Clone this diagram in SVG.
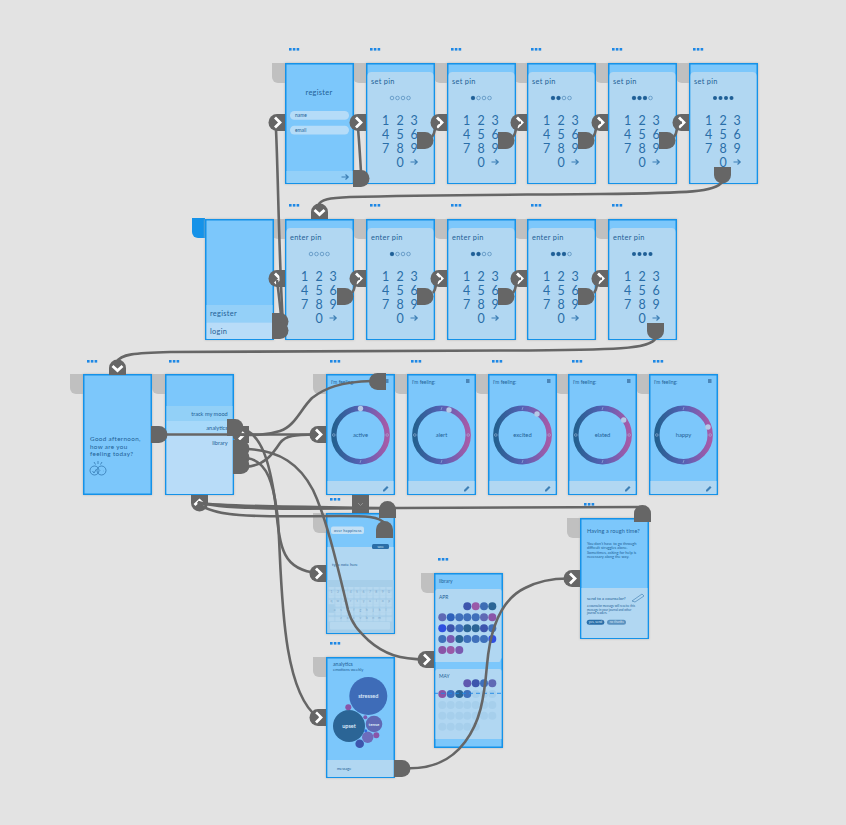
<svg xmlns="http://www.w3.org/2000/svg" width="846" height="825" viewBox="0 0 846 825">
<style>
text{font-family:"Lato","Noto Sans",sans-serif;fill:#1f5f96}
.fr{fill:#7cc7fb;stroke:#1592e8;stroke-width:1.5;x:.75px;y:.75px;width:67.5px;height:119.5px;filter:drop-shadow(0 0 1px #b5b5b5)}
.tab{fill:#c0c0c0}
.pan{fill:#b1d7f2}
.t{font-size:7.4px;letter-spacing:.3px}
.k{font-size:12.5px;text-anchor:middle;fill:#2a6ea8}
.s{font-size:4.9px}
.n{font-size:5.5px}
.m{font-size:5.8px;text-anchor:middle}
.r{font-size:5.6px;text-anchor:end}
.c{fill:none;stroke:#666;stroke-width:2.6}
.st{fill:#666}
.ch{fill:none;stroke:#fff;stroke-width:2.8}
.key{font-size:3.4px;text-anchor:middle;fill:#7ba8cc}
.ar{fill:none;stroke:#3d7fb5;stroke-width:1.2}
.b{font-size:3.9px;fill:#1f5f96}
.kn{fill:#b5c9e6}
</style>
<defs>
<linearGradient id="ringg" x1="0" y1="0" x2="1" y2="0"><stop offset="0" stop-color="#24608f"/><stop offset=".5" stop-color="#5660b4"/><stop offset="1" stop-color="#a65aa8"/></linearGradient>
<pattern id="keys" width="6.4" height="8.6" patternUnits="userSpaceOnUse" x="2.3" y="0"><rect x=".4" y=".6" width="5.6" height="7.2" rx="1" fill="#b6d8ef"/></pattern>
<g id="dots" fill="#1e88e5"><rect width="2.6" height="2.6"/><rect x="3.8" width="2.6" height="2.6"/><rect x="7.6" width="2.6" height="2.6"/></g>
<path id="tab" d="M-13 0H0V20H-7A6 6 0 0 1-13 14Z"/>
<g id="arrow"><path class="ar" d="M-3.5 0H3M.5-2.500L3.200 0L.5 2.500"/></g>
<g id="pinframe"><rect class="fr"/><path class="pan" d="M1.500 13A4 4 0 0 1 5.500 9H63.500A4 4 0 0 1 67.500 13V120H1.500Z"/><use href="#arrow" x="48" y="99"/></g>
<g id="empty4" fill="none" stroke="#5b92c0" stroke-width=".8"><circle cx="26" cy="35" r="1.800"/><circle cx="31.500" cy="35" r="1.800"/><circle cx="37" cy="35" r="1.800"/><circle cx="42.500" cy="35" r="1.800"/></g>
<path id="stub-r" class="st" d="M0 0H8A8.500 8.500 0 0 1 8 17H0Z"/>
<path id="stub-l" class="st" d="M17 0H8.500A8.500 8.500 0 0 0 8.500 17H17Z"/>
<path id="stub-t" class="st" d="M0 17V8.500A8.500 8.500 0 0 1 17 8.500V17Z"/>
<path id="stub-b" class="st" d="M0 0V8A8.500 8.500 0 0 0 17 8V0Z"/>
<g id="chev-r"><path class="st" d="M16 0H8A8.500 8.500 0 0 0 8 17H16Z"/><path class="ch" d="M6 3.500L11 8.500L6 13.500"/></g>
<g id="chev-d"><path class="st" d="M0 15V8A8.500 8.500 0 0 1 17 8V15Z"/><path class="ch" d="M3.500 6L8.500 10.500L13.500 6"/></g>
<g id="chev-u"><path class="st" d="M0 0V8A8.500 8.500 0 0 0 17 8V0Z"/><path class="ch" d="M3.500 10L8.500 5.500L13.500 10"/></g>
<g id="moodframe"><rect class="fr"/><rect class="pan" x="1.500" y="107" width="66" height="13"/>
<circle cx="34.500" cy="61" r="26.700" fill="none" stroke="url(#ringg)" stroke-width="5.400"/>
<g fill="none" stroke="#9db8dc" stroke-width=".6"><circle cx="7.800" cy="61" r="1.300"/><circle cx="61.200" cy="61" r="1.300"/><path d="M35 33L34 36M35 86L34 89"/></g>
<rect x="59" y="5" width="3.500" height="4" fill="#4b86b8"/>
<path d="M57 116L61 112L62.500 113.500L58.500 117.500H57Z" fill="#3d7fb5"/></g>
</defs>
<rect width="846" height="825" fill="#e3e3e3"/>
<g id="tabs" class="tab">
<use href="#tab" x="285" y="63"/><use href="#tab" x="366" y="63"/><use href="#tab" x="447" y="63"/><use href="#tab" x="527" y="63"/><use href="#tab" x="608" y="63"/><use href="#tab" x="689" y="63"/>
<use href="#tab" x="285" y="219"/><use href="#tab" x="366" y="219"/><use href="#tab" x="447" y="219"/><use href="#tab" x="527" y="219"/><use href="#tab" x="608" y="219"/>
<use href="#tab" x="205" y="218" fill="#1592e8"/>
<use href="#tab" x="83" y="374"/><use href="#tab" x="165" y="374"/><use href="#tab" x="326" y="374"/><use href="#tab" x="407" y="374"/><use href="#tab" x="488" y="374"/><use href="#tab" x="568" y="374"/><use href="#tab" x="649" y="374"/>
<use href="#tab" x="326" y="513"/><use href="#tab" x="326" y="657"/><use href="#tab" x="434" y="573"/><use href="#tab" x="580" y="518"/>
</g>
<g id="register" transform="translate(285,63)"><use href="#dots" x="4" y="-15"/><rect class="fr"/><text class="t" x="34" y="32" text-anchor="middle">register</text>
<rect x="5" y="48" width="59" height="8.700" rx="4.300" fill="#b5dcf8"/><text class="s" x="10" y="54">name</text>
<rect x="5" y="62.700" width="59" height="8.700" rx="4.300" fill="#b5dcf8"/><text class="s" x="10" y="68.800">email</text>
<rect x="1.500" y="108" width="66" height="12" fill="#94d0f8"/><use href="#arrow" x="60" y="114"/></g>
<g id="set-pin-1" transform="translate(366,63)"><use href="#dots" x="4" y="-15"/><use href="#pinframe"/><text class="t" x="5" y="21">set pin</text><use href="#empty4"/>
<text class="k" x="19.700 34 48" y="61.500">123</text><text class="k" x="19.700 34 48" y="75.500">456</text><text class="k" x="19.700 34 48" y="89.500">789</text><text class="k" x="34" y="103.500">0</text></g>
<g id="set-pin-2" transform="translate(447,63)"><use href="#dots" x="4" y="-15"/><use href="#pinframe"/><text class="t" x="5" y="21">set pin</text><use href="#empty4"/><circle cx="26" cy="35" r="2" fill="#1f5f96"/>
<text class="k" x="19.700 34 48" y="61.500">123</text><text class="k" x="19.700 34 48" y="75.500">456</text><text class="k" x="19.700 34 48" y="89.500">789</text><text class="k" x="34" y="103.500">0</text></g>
<g id="set-pin-3" transform="translate(527,63)"><use href="#dots" x="4" y="-15"/><use href="#pinframe"/><text class="t" x="5" y="21">set pin</text><use href="#empty4"/><g fill="#1f5f96"><circle cx="26" cy="35" r="2"/><circle cx="31.500" cy="35" r="2"/></g>
<text class="k" x="19.700 34 48" y="61.500">123</text><text class="k" x="19.700 34 48" y="75.500">456</text><text class="k" x="19.700 34 48" y="89.500">789</text><text class="k" x="34" y="103.500">0</text></g>
<g id="set-pin-4" transform="translate(608,63)"><use href="#dots" x="4" y="-15"/><use href="#pinframe"/><text class="t" x="5" y="21">set pin</text><use href="#empty4"/><g fill="#1f5f96"><circle cx="26" cy="35" r="2"/><circle cx="31.500" cy="35" r="2"/><circle cx="37" cy="35" r="2"/></g>
<text class="k" x="19.700 34 48" y="61.500">123</text><text class="k" x="19.700 34 48" y="75.500">456</text><text class="k" x="19.700 34 48" y="89.500">789</text><text class="k" x="34" y="103.500">0</text></g>
<g id="set-pin-5" transform="translate(689,63)"><use href="#dots" x="4" y="-15"/><use href="#pinframe"/><text class="t" x="5" y="21">set pin</text><g fill="#1f5f96"><circle cx="26" cy="35" r="2"/><circle cx="31.500" cy="35" r="2"/><circle cx="37" cy="35" r="2"/><circle cx="42.500" cy="35" r="2"/></g>
<text class="k" x="19.700 34 48" y="61.500">123</text><text class="k" x="19.700 34 48" y="75.500">456</text><text class="k" x="19.700 34 48" y="89.500">789</text><text class="k" x="34" y="103.500">0</text></g>
<g id="start" transform="translate(205,219)"><rect class="fr"/><rect x="1.500" y="86" width="66" height="17.500" fill="#94d0f8"/><rect x="1.500" y="103.500" width="66" height="16.500" fill="#b8dcf8"/><text class="t" x="5" y="97">register</text><text class="t" x="5" y="114.500">login</text></g>
<g id="enter-pin-1" transform="translate(285,219)"><use href="#dots" x="4" y="-15"/><use href="#pinframe"/><text class="t" x="5" y="21">enter pin</text><use href="#empty4"/>
<text class="k" x="19.700 34 48" y="61.500">123</text><text class="k" x="19.700 34 48" y="75.500">456</text><text class="k" x="19.700 34 48" y="89.500">789</text><text class="k" x="34" y="103.500">0</text></g>
<g id="enter-pin-2" transform="translate(366,219)"><use href="#dots" x="4" y="-15"/><use href="#pinframe"/><text class="t" x="5" y="21">enter pin</text><use href="#empty4"/><circle cx="26" cy="35" r="2" fill="#1f5f96"/>
<text class="k" x="19.700 34 48" y="61.500">123</text><text class="k" x="19.700 34 48" y="75.500">456</text><text class="k" x="19.700 34 48" y="89.500">789</text><text class="k" x="34" y="103.500">0</text></g>
<g id="enter-pin-3" transform="translate(447,219)"><use href="#dots" x="4" y="-15"/><use href="#pinframe"/><text class="t" x="5" y="21">enter pin</text><use href="#empty4"/><g fill="#1f5f96"><circle cx="26" cy="35" r="2"/><circle cx="31.500" cy="35" r="2"/></g>
<text class="k" x="19.700 34 48" y="61.500">123</text><text class="k" x="19.700 34 48" y="75.500">456</text><text class="k" x="19.700 34 48" y="89.500">789</text><text class="k" x="34" y="103.500">0</text></g>
<g id="enter-pin-4" transform="translate(527,219)"><use href="#dots" x="4" y="-15"/><use href="#pinframe"/><text class="t" x="5" y="21">enter pin</text><use href="#empty4"/><g fill="#1f5f96"><circle cx="26" cy="35" r="2"/><circle cx="31.500" cy="35" r="2"/><circle cx="37" cy="35" r="2"/></g>
<text class="k" x="19.700 34 48" y="61.500">123</text><text class="k" x="19.700 34 48" y="75.500">456</text><text class="k" x="19.700 34 48" y="89.500">789</text><text class="k" x="34" y="103.500">0</text></g>
<g id="enter-pin-5" transform="translate(608,219)"><use href="#dots" x="4" y="-15"/><use href="#pinframe"/><text class="t" x="5" y="21">enter pin</text><g fill="#1f5f96"><circle cx="26" cy="35" r="2"/><circle cx="31.500" cy="35" r="2"/><circle cx="37" cy="35" r="2"/><circle cx="42.500" cy="35" r="2"/></g>
<text class="k" x="19.700 34 48" y="61.500">123</text><text class="k" x="19.700 34 48" y="75.500">456</text><text class="k" x="19.700 34 48" y="89.500">789</text><text class="k" x="34" y="103.500">0</text></g>
<g id="greeting" transform="translate(83,374)"><use href="#dots" x="4" y="-14"/><rect class="fr"/>
<text font-size="6.300" letter-spacing=".35" x="7" y="67">Good afternoon,</text><text font-size="6.300" letter-spacing=".35" x="7" y="75">how are you</text><text font-size="6.300" letter-spacing=".35" x="7" y="82">feeling today?</text>
<g fill="none" stroke="#2a6ea8" stroke-width=".7"><circle cx="11.500" cy="96.500" r="4.500"/><circle cx="18.500" cy="96.500" r="4.500"/><path d="M15 87V90M11 88L12.500 90.500M19 88L17.500 90.500M9.500 97L11 99L13.500 95M17 96.500H17.300M20 97H20.300"/></g></g>
<g id="menu" transform="translate(165,374)"><use href="#dots" x="4" y="-14"/><rect class="fr"/><rect x="1.500" y="32" width="66" height="15" fill="#92d0f7"/><rect x="1.500" y="47" width="66" height="12" fill="#a7d9fa"/><rect x="1.500" y="59" width="66" height="61" fill="#b8dcf8"/>
<text class="r" x="62.700" y="42">track my mood</text><text class="r" x="62.700" y="56">analytics</text><text class="r" x="62.700" y="71">library</text></g>
<g id="mood-active" transform="translate(326,374)"><use href="#dots" x="4" y="-14"/><use href="#moodframe"/><text class="s" x="5" y="9.500">I'm feeling:</text><circle class="kn" cx="34.500" cy="34.500" r="2.700"/><text class="m" x="34.500" y="63">active</text></g>
<g id="mood-alert" transform="translate(407,374)"><use href="#dots" x="4" y="-14"/><use href="#moodframe"/><text class="s" x="5" y="9.500">I'm feeling:</text><circle class="kn" cx="42" cy="36" r="2.700"/><text class="m" x="34.500" y="63">alert</text></g>
<g id="mood-excited" transform="translate(488,374)"><use href="#dots" x="4" y="-14"/><use href="#moodframe"/><text class="s" x="5" y="9.500">I'm feeling:</text><circle class="kn" cx="49" cy="40" r="2.700"/><text class="m" x="34.500" y="63">excited</text></g>
<g id="mood-elated" transform="translate(568,374)"><use href="#dots" x="4" y="-14"/><use href="#moodframe"/><text class="s" x="5" y="9.500">I'm feeling:</text><circle class="kn" cx="55.700" cy="46" r="2.700"/><text class="m" x="34.500" y="63">elated</text></g>
<g id="mood-happy" transform="translate(649,374)"><use href="#dots" x="4" y="-14"/><use href="#moodframe"/><text class="s" x="5" y="9.500">I'm feeling:</text><circle class="kn" cx="59" cy="53" r="2.700"/><text class="m" x="34.500" y="63">happy</text></g>
<g id="journal" transform="translate(326,513)"><use href="#dots" x="4" y="-15"/><rect class="fr"/>
<rect x="1.500" y="34" width="66" height="86" fill="#b1d7f2"/>
<rect x="5" y="13.500" width="33" height="7.500" rx="2" fill="#c3e0f5"/><text font-size="3.800" x="8" y="18.700" letter-spacing=".2">over happiness</text>
<rect x="46" y="31" width="17" height="5" rx="1.500" fill="#2a6ea8"/><text font-size="3.200" x="54.500" y="34.700" text-anchor="middle" style="fill:#cfe6f7">save</text>
<text font-size="4" x="6" y="53">type note here</text>
<rect x="1.500" y="67" width="66" height="53" fill="#a6cee9"/>
<rect x="2.300" y="74" width="64" height="8.600" fill="url(#keys)"/>
<rect x="2.300" y="82.600" width="64" height="8.600" fill="url(#keys)"/>
<rect x="8.700" y="91.200" width="57.600" height="8.600" fill="url(#keys)"/>
<rect x="2.300" y="99.800" width="64" height="8.600" fill="url(#keys)"/>
<rect x="4" y="109" width="60" height="7.500" rx="1" fill="#b6d8ef"/>
<text class="key" x="5.500 11.900 18.300 24.700 31.100 37.500 43.900 50.300 56.700 63.100" y="80">1234567890</text>
<text class="key" x="5.500 11.900 18.300 24.700 31.100 37.500 43.900 50.300 56.700 63.100" y="89">qwertyuiop</text>
<text class="key" x="8.700 15.100 21.500 27.900 34.300 40.700 47.100 53.500 59.900" y="97.500">asdfghjkl</text>
<text class="key" x="15.100 21.500 27.900 34.300 40.700 47.100 53.500" y="106.300">zxcvbnm</text></g>
<g id="analytics" transform="translate(326,657)"><use href="#dots" x="4" y="-15"/><rect class="fr"/><text font-size="5.200" x="7" y="8.500">analytics</text><text font-size="4.100" x="7" y="13.500">emotions weekly</text>
<rect x="1.500" y="103" width="66" height="17" fill="#b1d7f2"/><text font-size="3.800" x="11" y="112.500">message</text>
<circle cx="42.300" cy="39" r="19" fill="#3e6cb8"/><circle cx="23" cy="69" r="16" fill="#2b6596"/><circle cx="48" cy="67" r="8.300" fill="#5f69b5"/><circle cx="41.700" cy="80.300" r="5.700" fill="#6d6cbc"/><circle cx="33.700" cy="86.700" r="4.300" fill="#3d55ad"/><circle cx="50.300" cy="78.300" r="3" fill="#8a55a8"/><circle cx="22.300" cy="50.300" r="3" fill="#8a55a8"/><circle cx="39.300" cy="60.300" r="2" fill="#7a5ab0"/><circle cx="39.700" cy="73.700" r="1.500" fill="#2f6be0"/>
<g text-anchor="middle" font-weight="700"><text font-size="5.500" x="42.300" y="41" style="fill:#dbe8f7">stressed</text><text font-size="5.500" x="23" y="71" style="fill:#dbe8f7">upset</text><text font-size="4.500" x="48" y="69" style="fill:#dbe8f7">tense</text></g></g>
<g id="library" transform="translate(434,573)"><use href="#dots" x="4" y="-15"/><rect class="fr" style="height:173.500px"/><text class="s" x="5" y="9.500">library</text>
<path class="pan" d="M1.500 18A2 2 0 0 1 3.500 16H65.500A2 2 0 0 1 67.500 18V85L65.500 89H1.500Z"/><path class="pan" d="M1.500 98A2 2 0 0 1 3.500 96H65.500A2 2 0 0 1 67.500 98V166H1.500Z"/>
<text class="s" x="5" y="25.500">APR</text><text class="s" x="5" y="104.500">MAY</text>
<g fill="#3f70bb">
<circle cx="33.300" cy="33.300" r="4" fill="#3d55ad"/><circle cx="41.700" cy="33.300" r="4" fill="#9a5aa8"/><circle cx="50" cy="33.300" r="4" fill="#3d6db5"/><circle cx="58.300" cy="33.300" r="4" fill="#2b6596"/>
<circle cx="8.300" cy="44.300" r="4" fill="#5f69b5"/><circle cx="16.700" cy="44.300" r="4" fill="#2f62bb"/><circle cx="25.300" cy="44.300" r="4"/><circle cx="33.300" cy="44.300" r="4"/><circle cx="41.700" cy="44.300" r="4"/><circle cx="50" cy="44.300" r="4" fill="#5f69b5"/><circle cx="58.300" cy="44.300" r="4" fill="#8a55a8"/>
<circle cx="8.300" cy="55.300" r="4" fill="#2f4fe0"/><circle cx="16.700" cy="55.300" r="4" fill="#3d55ad"/><circle cx="25.300" cy="55.300" r="4"/><circle cx="33.300" cy="55.300" r="4" fill="#2b6596"/><circle cx="41.700" cy="55.300" r="4" fill="#2b6596"/><circle cx="50" cy="55.300" r="4" fill="#3d55ad"/><circle cx="58.300" cy="55.300" r="4"/>
<circle cx="8.300" cy="66" r="4"/><circle cx="16.700" cy="66" r="4" fill="#7a5ab0"/><circle cx="25.300" cy="66" r="4" fill="#2b6596"/><circle cx="33.300" cy="66" r="4"/><circle cx="41.700" cy="66" r="4"/><circle cx="50" cy="66" r="4"/><circle cx="58.300" cy="66" r="4" fill="#2f4fe0"/>
<circle cx="8.300" cy="77" r="4" fill="#8a55a8"/><circle cx="16.700" cy="77" r="4" fill="#9a5aa8"/><circle cx="25.300" cy="77" r="4" fill="#7a5ab0"/>
<circle cx="33.300" cy="110.300" r="4" fill="#5f58b0"/><circle cx="41.700" cy="110.300" r="4" fill="#3d55ad"/><circle cx="50" cy="110.300" r="4"/><circle cx="58.300" cy="110.300" r="4" fill="#5f69b5"/>
<circle cx="8.300" cy="121" r="4" fill="#8a55a8"/><circle cx="16.700" cy="121" r="4"/><circle cx="25.300" cy="121" r="4" fill="#2b6596"/><circle cx="33.300" cy="121" r="4"/>
</g>
<g fill="#a6cfec"><circle cx="41.700" cy="121" r="4"/><circle cx="50" cy="121" r="4"/><circle cx="58.300" cy="121" r="4"/>
<circle cx="8.300" cy="132" r="4"/><circle cx="16.700" cy="132" r="4"/><circle cx="25.300" cy="132" r="4"/><circle cx="33.300" cy="132" r="4"/><circle cx="41.700" cy="132" r="4"/><circle cx="50" cy="132" r="4"/><circle cx="58.300" cy="132" r="4"/>
<circle cx="8.300" cy="142.700" r="4"/><circle cx="16.700" cy="142.700" r="4"/><circle cx="25.300" cy="142.700" r="4"/><circle cx="33.300" cy="142.700" r="4"/><circle cx="41.700" cy="142.700" r="4"/><circle cx="50" cy="142.700" r="4"/><circle cx="58.300" cy="142.700" r="4"/>
<circle cx="8.300" cy="153.700" r="4"/><circle cx="16.700" cy="153.700" r="4"/><circle cx="25.300" cy="153.700" r="4"/><circle cx="33.300" cy="153.700" r="4"/><circle cx="41.700" cy="153.700" r="4"/></g>
<path d="M0 120.300H68" stroke="#1e88e5" stroke-width=".9" stroke-dasharray="4 3" fill="none"/></g>
<g id="rough-time" transform="translate(580,518)"><use href="#dots" x="4" y="-15"/><rect class="fr"/><text font-size="5.500" x="7" y="15" letter-spacing=".1">Having a rough time?</text>
<text class="b" x="7" y="26.500">You don't have to go through</text><text class="b" x="7" y="30.500">difficult struggles alone.</text><text class="b" x="7" y="36">Sometimes, asking for help is</text><text class="b" x="7" y="40">necessary along the way.</text>
<rect x="1.500" y="70" width="66" height="50" fill="#b1d7f2"/><text font-size="4.300" x="7" y="82">send to a counselor?</text>
<text font-size="3" x="7" y="89">a counselor message will receive this</text><text font-size="3" x="7" y="92.500">message in your journal and other</text><text font-size="3" x="7" y="96">journal readers.</text>
<path d="M52 83L62 76L64 78L55 84Z" fill="none" stroke="#4b86b8" stroke-width=".7"/>
<rect x="6.700" y="101.700" width="17.600" height="5" rx="2.500" fill="#2a6ea8"/><rect x="27" y="101.700" width="19" height="5" rx="2.500" fill="#5b92c0"/>
<text font-size="3.300" x="15.500" y="105.300" text-anchor="middle" style="fill:#dbe8f7">yes, send</text><text font-size="3.300" x="36.500" y="105.300" text-anchor="middle" style="fill:#dbe8f7">no thanks</text></g>
<g id="connectors">
<g id="targets">
<use href="#chev-r" x="269" y="114"/><use href="#chev-r" x="350" y="114"/><use href="#chev-r" x="431" y="114"/><use href="#chev-r" x="511" y="114"/><use href="#chev-r" x="592" y="114"/><use href="#chev-r" x="673" y="114"/>
<use href="#chev-r" x="269" y="270"/><use href="#chev-r" x="350" y="270"/><use href="#chev-r" x="431" y="270"/><use href="#chev-r" x="511" y="270"/><use href="#chev-r" x="592" y="270"/>
<use href="#chev-d" x="311" y="204"/><use href="#chev-d" x="109" y="360"/>
<use href="#chev-r" x="310" y="426"/><use href="#chev-r" x="310" y="565"/><use href="#chev-r" x="310" y="709"/><use href="#chev-r" x="418" y="651"/><use href="#chev-r" x="564" y="570"/>
<use href="#chev-u" x="191" y="495"/>
<rect class="st" x="352" y="495" width="17" height="18"/><path d="M358 503L360.500 505.500L363 503" fill="none" stroke="#999" stroke-width=".8"/>
<use href="#chev-r" x="233" y="426"/>
</g>
<g id="lines">
<path class="c" d="M276 130C278 170 279 260 283 325"/>
<path class="c" d="M277 280C279 295 281 315 282 325"/>
<path class="c" d="M358 128C359 140 360 155 361 172"/>
<path class="c" d="M432 137C437 131 433 123 440 122.500"/><path class="c" d="M513 137C518 131 514 123 521 122.500"/><path class="c" d="M593 137C598 131 594 123 601 122.500"/><path class="c" d="M674 137C679 131 675 123 682 122.500"/>
<path class="c" d="M352 293C357 287 353 279 360 278.500"/><path class="c" d="M433 293C438 287 434 279 441 278.500"/><path class="c" d="M513 293C518 287 514 279 521 278.500"/><path class="c" d="M594 293C599 287 595 279 602 278.500"/>
<path class="c" d="M722 182C716 192 690 193 600 194C480 195 420 195 350 197C330 198 320 199 318 206"/>
<path class="c" d="M656 338C650 349 620 350 500 350.500C350 351 250 351 170 352C135 353 120 354 117 362"/>
<path class="c" d="M158 434.500H318"/>
<path class="c" d="M372 381C340 382 325 388 312 398C300 410 295 426 280 431C265 436 250 435 238 434.500"/>
<path class="c" d="M246 467C265 465 272 455 280 443C286 435 295 435 318 434.500"/>
<path class="c" d="M240 428C262 432 270 465 275 500C280 545 280 570 318 573"/>
<path class="c" d="M246 458C268 460 274 485 278 520C282 580 280 690 318 717.500"/>
<path class="c" d="M246 449C280 450 300 465 313 490C325 515 335 555 348 610C352 625 360 632 368 640C385 655 400 659 426 659.500"/>
<path class="c" d="M198 502C220 510 300 509 400 508C480 507 560 507 642 507"/>
<path class="c" d="M198 503C230 507 320 507 388 508"/>
<path class="c" d="M198 502C210 520 280 516 340 516C365 516 380 516 385 524"/>
<path class="c" d="M402 768C430 770 450 762 465 742C480 722 484 700 487 665C490 630 500 600 525 588C540 580 555 578 572 578.500"/>
</g>
<g id="sources">
<use href="#stub-r" x="353" y="170"/><use href="#stub-r" x="417" y="132"/><use href="#stub-r" x="498" y="132"/><use href="#stub-r" x="578" y="132"/><use href="#stub-r" x="659" y="132"/><use href="#stub-b" x="714" y="167"/>
<use href="#stub-r" x="272" y="313"/><use href="#stub-r" x="272" y="322"/><use href="#stub-r" x="337" y="288"/><use href="#stub-r" x="417" y="288"/><use href="#stub-r" x="498" y="288"/><use href="#stub-r" x="578" y="288"/><use href="#stub-b" x="647" y="323"/>
<use href="#stub-r" x="151" y="426"/><use href="#stub-r" x="227" y="419"/><use href="#stub-r" x="233" y="440"/><use href="#stub-r" x="233" y="449"/><use href="#stub-r" x="233" y="457"/>
<use href="#stub-l" x="369" y="373"/>
<use href="#stub-t" x="379" y="501"/><use href="#stub-t" x="376" y="521"/><use href="#stub-t" x="634" y="505"/>
<use href="#stub-r" x="394" y="760"/>
</g>
</g>
</svg>
